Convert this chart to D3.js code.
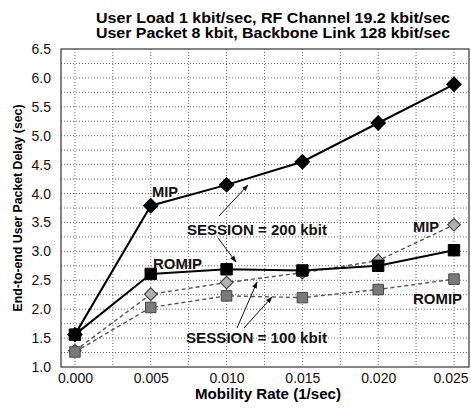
<!DOCTYPE html>
<html>
<head>
<meta charset="utf-8">
<script src="https://cdn.jsdelivr.net/npm/d3@7"></script>
<style>
  body { margin: 0; background: #fff; }
  svg { font-family: "Liberation Sans", Arial, Helvetica, sans-serif; }
  .grid line { stroke: #444; stroke-dasharray: 1,2; stroke-width: 0.8; }
  .axis path, .axis line { display: none; }
  .axis text { font-size: 14px; fill: #111; }
</style>
</head>
<body>
<svg id="chart" width="471" height="415"></svg>
<script>
// ---- Daten ----
const mobility = [0.000, 0.005, 0.010, 0.015, 0.020, 0.025];
const mip200   = [1.56, 3.79, 4.15, 4.55, 5.22, 5.89];
const romip200 = [1.56, 2.61, 2.69, 2.67, 2.75, 3.02];
const mip100   = [1.28, 2.26, 2.46, 2.63, 2.84, 3.46];
const romip100 = [1.26, 2.03, 2.23, 2.20, 2.34, 2.52];

const yTicks = [1.0, 1.5, 2.0, 2.5, 3.0, 3.5, 4.0, 4.5, 5.0, 5.5, 6.0, 6.5];
const xTicks = [0.000, 0.005, 0.010, 0.015, 0.020, 0.025];
const titleLines = [
  "User Load 1 kbit/sec, RF Channel 19.2 kbit/sec",
  "User Packet 8 kbit, Backbone Link 128 kbit/sec"
];

// ---- Setup ----
const svg = d3.select("#chart");
const plot = { left: 61, right: 469, top: 49, bottom: 367 };

const x = d3.scaleLinear().domain([-0.00092, 0.02599]).range([plot.left, plot.right]);
const y = d3.scaleLinear().domain([1.0, 6.5]).range([plot.bottom, plot.top]);

// Pfeilspitze
svg.append("defs").append("marker")
  .attr("id", "arrow")
  .attr("viewBox", "0 0 10 10")
  .attr("refX", 9).attr("refY", 5)
  .attr("markerWidth", 7).attr("markerHeight", 7)
  .attr("orient", "auto-start-reverse")
  .append("path")
    .attr("d", "M0,1.5 L10,5 L0,8.5 z")
    .attr("fill", "#111");

// ---- Gitter ----
const grid = svg.append("g").attr("class", "grid");
grid.selectAll("line.v")
  .data(d3.range(0, 0.02501, 0.0025))
  .join("line")
    .attr("class", "v")
    .attr("x1", d => x(d)).attr("x2", d => x(d))
    .attr("y1", plot.top).attr("y2", plot.bottom);
grid.selectAll("line.h")
  .data(d3.range(1.25, 6.5, 0.25))
  .join("line")
    .attr("class", "h")
    .attr("x1", plot.left).attr("x2", plot.right)
    .attr("y1", d => y(d)).attr("y2", d => y(d));

// Rahmen
svg.append("rect")
  .attr("x", plot.left).attr("y", plot.top)
  .attr("width", plot.right - plot.left)
  .attr("height", plot.bottom - plot.top)
  .attr("fill", "none")
  .attr("stroke", "#333")
  .attr("stroke-width", 1.2);

// ---- Achsen ----
svg.append("g")
  .attr("class", "axis")
  .attr("transform", `translate(${plot.left},0)`)
  .call(d3.axisLeft(y).tickValues(yTicks).tickFormat(d3.format(".1f")).tickSize(0).tickPadding(10));

const xAxisG = svg.append("g")
  .attr("class", "axis")
  .attr("transform", `translate(0,${plot.bottom})`)
  .call(d3.axisBottom(x).tickValues(xTicks).tickFormat(d3.format(".3f")).tickSize(0).tickPadding(6));

// letztes Label am rechten Rand nicht abschneiden
xAxisG.selectAll(".tick text")
  .filter(d => d === 0.025)
  .attr("text-anchor", "end")
  .attr("x", plot.right - x(0.025) - 1);

// Titel
svg.append("text")
  .attr("text-anchor", "middle")
  .attr("font-weight", "bold")
  .attr("font-size", "14px")
  .selectAll("tspan")
  .data(titleLines)
  .join("tspan")
    .attr("x", 273)
    .attr("y", (d, i) => 23 + i * 14.5)
    .attr("textLength", 354)
    .attr("lengthAdjust", "spacingAndGlyphs")
    .text(d => d);

svg.append("text")
  .attr("x", 268).attr("y", 399)
  .attr("text-anchor", "middle")
  .attr("font-weight", "bold")
  .attr("font-size", "14.5px")
  .attr("textLength", 146)
  .attr("lengthAdjust", "spacingAndGlyphs")
  .text("Mobility Rate (1/sec)");

svg.append("text")
  .attr("transform", "translate(22,208) rotate(-90)")
  .attr("text-anchor", "middle")
  .attr("font-weight", "bold")
  .attr("font-size", "12px")
  .attr("textLength", 207)
  .attr("lengthAdjust", "spacingAndGlyphs")
  .text("End-to-end User Packet Delay (sec)");

// ---- Linien ----
// Raute = um 45° gedrehtes Quadrat
const series = [
  { values: mip100,   dashed: true,  diamond: true,  size: 80,  fill: "#b0b0b0", stroke: "#333" },
  { values: romip100, dashed: true,  diamond: false, size: 110, fill: "#7a7a7a", stroke: "#444" },
  { values: romip200, dashed: false, diamond: false, size: 130, fill: "#000",    stroke: "#000" },
  { values: mip200,   dashed: false, diamond: true,  size: 105, fill: "#000",    stroke: "#000" }
];

const line = d3.line()
  .x(d => x(d[0]))
  .y(d => y(d[1]));

series.forEach(s => {
  const pts = mobility.map((m, i) => [m, s.values[i]]);
  svg.append("path")
    .datum(pts)
    .attr("d", line)
    .attr("fill", "none")
    .attr("stroke", s.dashed ? "#555" : "#000")
    .attr("stroke-width", s.dashed ? 1.4 : 2)
    .attr("stroke-dasharray", s.dashed ? "4,3" : null);

  svg.append("g")
    .selectAll("path")
    .data(pts)
    .join("path")
      .attr("transform", d => `translate(${x(d[0])},${y(d[1])})` + (s.diamond ? " rotate(45)" : ""))
      .attr("d", d3.symbol().type(d3.symbolSquare).size(s.size))
      .attr("fill", s.fill)
      .attr("stroke", s.stroke)
      .attr("stroke-width", 1);
});

// ---- Beschriftungen ----
const labels = [
  { text: "MIP",                  x: 152, y: 197, w: 26 },
  { text: "ROMIP",                x: 153, y: 269, w: 49 },
  { text: "MIP",                  x: 413, y: 232, w: 26 },
  { text: "ROMIP",                x: 413, y: 304, w: 49 },
  { text: "SESSION = 200 kbit",   x: 187, y: 235, w: 140 },
  { text: "SESSION = 100 kbit",   x: 186, y: 343, w: 141 }
];
svg.append("g")
  .selectAll("text")
  .data(labels)
  .join("text")
    .attr("x", d => d.x).attr("y", d => d.y)
    .attr("font-weight", "bold")
    .attr("font-size", "14px")
    .attr("fill", "#111")
    .attr("textLength", d => d.w)
    .attr("lengthAdjust", "spacingAndGlyphs")
    .text(d => d.text);

const arrows = [
  [219, 216, 248, 185],
  [218, 238, 236, 262],
  [237, 328, 257, 282],
  [244, 328, 272, 297]
];
svg.append("g")
  .selectAll("line")
  .data(arrows)
  .join("line")
    .attr("x1", d => d[0]).attr("y1", d => d[1])
    .attr("x2", d => d[2]).attr("y2", d => d[3])
    .attr("stroke", "#111")
    .attr("stroke-width", 1)
    .attr("marker-end", "url(#arrow)");
</script>
</body>
</html>
